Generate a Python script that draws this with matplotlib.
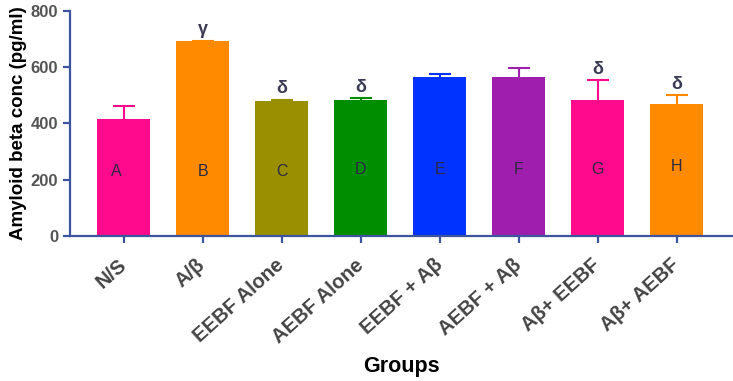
import matplotlib.pyplot as plt
import numpy as np

groups = ['N/S', 'A/β', 'EEBF Alone', 'AEBF Alone', 'EEBF + Aβ', 'AEBF + Aβ', 'Aβ+ EEBF', 'Aβ+ AEBF']
values = [415, 692, 480, 484, 567, 566, 484, 469]
errors = [48, 3, 5, 6, 10, 32, 69, 32]
letters = ['A', 'B', 'C', 'D', 'E', 'F', 'G', 'H']
letter_y = [228, 228, 230, 235, 235, 235, 235, 245]
marks = ['', 'γ', 'δ', 'δ', '', '', 'δ', 'δ']
colors = ['#FF0A8C', '#FF8A00', '#9A8F00', '#008E00', '#0033FF', '#A01EAE', '#FF0A8C', '#FF8A00']

plt.rcParams['font.family'] = ['Liberation Sans', 'DejaVu Sans']
axis_col = '#3D559E'

fig = plt.figure(figsize=(7.33, 3.81), dpi=100)
ax = fig.add_axes([0.0955, 0.381, 0.903, 0.59])

x = np.arange(len(groups))
w = 0.67
ax.bar(x, values, width=w, color=colors, zorder=2)
tops = np.array(values) + np.array(errors)
# one-sided error bars: stem up from bar top, cap only at top
ax.vlines(x, values, tops, colors=colors, linewidth=1.5, zorder=3)
ax.hlines(tops, x - 0.14, x + 0.14, colors=colors, linewidth=1.5, zorder=3)
for i in range(len(groups)):
    dx = -0.1 if i == 0 else 0
    ax.text(x[i] + dx, letter_y[i], letters[i], ha='center', va='center', fontsize=11.5,
            color='#2A2A40')
    if marks[i]:
        ax.text(x[i], tops[i] + 8, marks[i], ha='center', va='bottom',
                fontsize=13, fontweight='bold', color='#3A3A55')

ax.set_xlim(-0.68, 7.7)
ax.set_ylim(0, 800)
ax.set_yticks([0, 200, 400, 600, 800])
ax.set_xticks(x)
ax.set_xticklabels(groups, rotation=42, ha='right', va='center', rotation_mode='anchor',
                   fontsize=14.5, fontweight='bold', color='#444444')
for lab in ax.get_yticklabels():
    lab.set_fontweight('bold')
    lab.set_fontsize(12)
    lab.set_color('#555555')

for s in ['top', 'right']:
    ax.spines[s].set_visible(False)
for s in ['left', 'bottom']:
    ax.spines[s].set_color(axis_col)
    ax.spines[s].set_linewidth(1.6)
ax.tick_params(axis='both', color=axis_col, width=1.6, length=5)
ax.tick_params(axis='x', pad=14)

ax.set_ylabel('Amyloid beta conc (pg/ml)', fontsize=13.5, fontweight='bold', labelpad=3)
ax.set_xlabel('Groups', fontsize=15.5, fontweight='bold', labelpad=7)

fig.savefig('out.png', dpi=100)
